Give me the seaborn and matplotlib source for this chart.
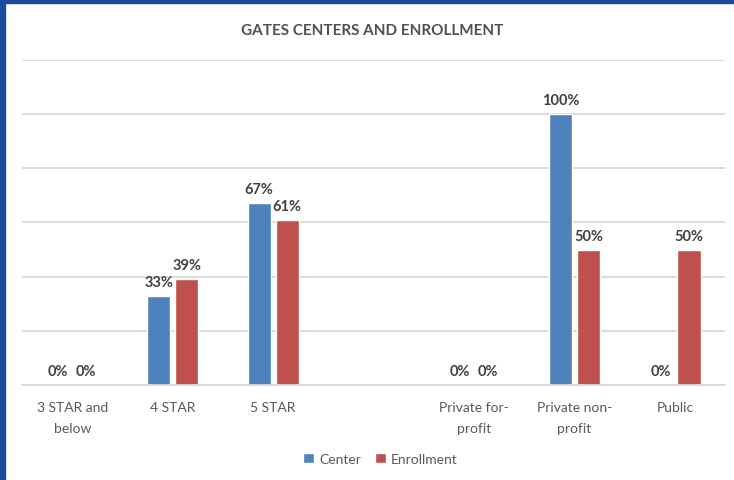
import pandas as pd
import matplotlib.pyplot as plt
import seaborn as sns
from matplotlib.patches import Rectangle

categories = ["3 STAR and\nbelow", "4 STAR", "5 STAR", " ",
              "Private for-\nprofit", "Private non-\nprofit", "Public"]
data_categories = ["3 STAR and\nbelow", "4 STAR", "5 STAR",
                   "Private for-\nprofit", "Private non-\nprofit", "Public"]
center = [0.0, 0.33, 0.67, 0.0, 1.00, 0.0]
enrollment = [0.0, 0.39, 0.61, 0.0, 0.50, 0.50]
series = ["Center", "Enrollment"]
colors = ["#4F81BD", "#C0504D"]

df = pd.DataFrame({
    "category": data_categories * 2,
    "series": [series[0]] * len(center) + [series[1]] * len(enrollment),
    "value": center + enrollment,
})

sns.set_style("white")
plt.rcParams["font.family"] = ["Lato", "DejaVu Sans"]

fig = plt.figure(figsize=(7.34, 4.81), dpi=100)
ax = fig.add_axes([0.030, 0.197, 0.958, 0.677])

sns.barplot(data=df, x="category", y="value", hue="series", order=categories,
            hue_order=series, palette=colors, width=0.56, gap=0.18,
            saturation=1, ax=ax, legend=True)

ax.set_ylim(0, 1.2)
ax.set_xlim(-0.5, 6.5)
ax.set_yticks([0.2 * i for i in range(7)])
ax.yaxis.grid(True, color="#D9D9D9", linewidth=1.3)
ax.set_axisbelow(True)
ax.tick_params(axis="y", left=False, labelleft=False)
ax.set_xticks(range(len(categories)))
ax.set_xticklabels(categories, linespacing=1.85)
ax.tick_params(axis="x", bottom=False, pad=8, labelsize=10, labelcolor="#595959")
for s in ["left", "right", "top"]:
    ax.spines[s].set_visible(False)
ax.spines["bottom"].set_color("#D9D9D9")
ax.spines["bottom"].set_linewidth(1.3)
ax.set_xlabel("")
ax.set_ylabel("")

for cont in ax.containers:
    ax.bar_label(cont, fmt="{:.0%}", padding=5, fontsize=10.5,
                 fontweight="bold", color="#404040")

ax.legend(loc="upper center", bbox_to_anchor=(0.51, -0.17), ncol=2, frameon=False,
          fontsize=10, handlelength=0.75, handleheight=0.75, handletextpad=0.4,
          columnspacing=1.0, labelcolor="#595959")

fig.text(0.507, 0.935, "GATES CENTERS AND ENROLLMENT", ha="center", va="center",
         fontsize=11, fontweight="bold", color="#505050")

# dark blue frame on left and top edges
fig.patches.append(Rectangle((0, 0), 5 / 734, 1, transform=fig.transFigure,
                             color="#1B4A9C", zorder=10))
fig.patches.append(Rectangle((0, 1 - 4 / 481), 1, 4 / 481, transform=fig.transFigure,
                             color="#1B4A9C", zorder=10))

fig.savefig("out.png", dpi=100)
